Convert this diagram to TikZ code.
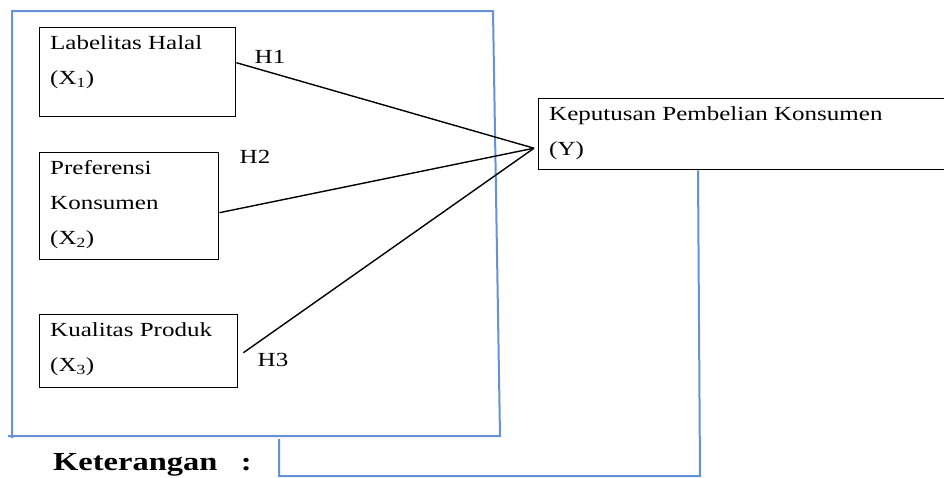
\documentclass[tikz,border=0pt]{standalone}
\usepackage{fontspec}
\setmainfont{Liberation Serif}[FakeStretch=1.25]
\definecolor{frameblue}{RGB}{100,145,215}

\tikzset{
  varbox/.style={draw, line width=1.4pt, inner sep=0pt, anchor=north west},
  vartext/.style={font=\fontsize{20}{35}\selectfont, inner sep=0pt, align=left, anchor=north west},
  hyp/.style={font=\fontsize{20}{24}\selectfont, inner sep=0pt},
  path/.style={line width=1.4pt},
  bracket/.style={draw=frameblue, line width=2pt}
}

\begin{document}
\begin{tikzpicture}[x=1pt, y=-1pt]
\useasboundingbox (0,0) rectangle (944,477);
\clip (0,0) rectangle (944,477);

% frame
\draw[bracket] (8,436) -- (500,436) -- (493,11) -- (12,11) -- (12,438);

% variables
\node[varbox, minimum width=196pt, minimum height=89pt] (x1) at (39,27) {};
\node[vartext] (x1txt) at ([xshift=11pt,yshift=-8pt]x1.north west) {Labelitas Halal\\(X\textsubscript{1})};

\node[varbox, minimum width=179pt, minimum height=107pt] (x2) at (39,152) {};
\node[vartext] (x2txt) at ([xshift=11pt,yshift=-8pt]x2.north west) {Preferensi\\Konsumen\\(X\textsubscript{2})};

\node[varbox, minimum width=198pt, minimum height=73pt] (x3) at (39,314) {};
\node[vartext] (x3txt) at ([xshift=11pt,yshift=-8pt]x3.north west) {Kualitas Produk\\(X\textsubscript{3})};

\node[varbox, minimum width=440pt, minimum height=71pt] (y) at (538,98) {};
\node[vartext] (ytxt) at ([xshift=11pt,yshift=-8pt]y.north west) {Keputusan Pembelian Konsumen\\(Y)};

\coordinate (hub) at ([xshift=-4pt,yshift=-14pt]y.west);

% hypotheses
\draw[path] ([yshift=9.5pt]x1.east) -- (hub);
\draw[path] ([yshift=-6.5pt]x2.east) -- (hub);
\draw[path] ([xshift=5pt,yshift=-1.5pt]x3.east) -- (hub);

\node[hyp] (h1) at (270,57) {H1};
\node[hyp] (h2) at (255,157) {H2};
\node[hyp] (h3) at (273,360) {H3};

% bracket to Y
\draw[bracket] (279,439) -- (279,476) -- (700,476) -- ([xshift=160pt]y.south west);

\node[font=\fontsize{26}{30}\selectfont\bfseries, inner sep=0pt, anchor=base west] (ket) at (53,470) {Keterangan\hspace{0.9em}:};
\end{tikzpicture}
\end{document}
